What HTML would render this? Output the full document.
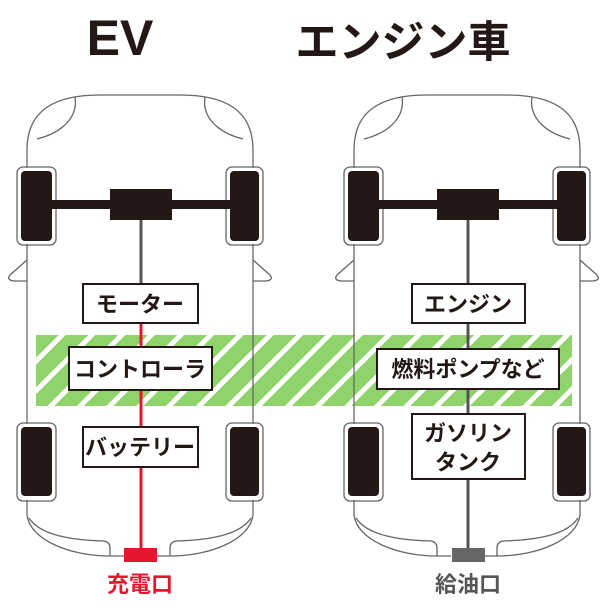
<!DOCTYPE html>
<html><head><meta charset="utf-8"><style>
html,body{margin:0;padding:0;background:#fff;}
body{width:607px;height:616px;position:relative;overflow:hidden;font-family:"Liberation Sans","Noto Sans CJK JP",sans-serif;}
.band{position:absolute;left:36px;top:335px;width:536px;height:71px;
background:repeating-linear-gradient(135deg,#8fd46a 0 16px,#fff 16px 21px);}
svg{position:absolute;left:0;top:0;}
</style></head><body>
<div class="band"></div>
<svg width="607" height="616" viewBox="0 0 607 616">
<defs>
<g id="car" fill="none" stroke="#666" stroke-width="1.3">
  <path d="M27,168 L27,150 C27,110 55,95 100,95 L180,95 C225,95 253,110 253,150 L253,168"/>
  <path d="M75,97 C78,115 65,132 37,139"/>
  <path d="M205,97 C202,115 215,132 243,139"/>
  <path d="M27,244 L27,424 M253,244 L253,424"/>
  <path d="M27,500 L27,515 C30,540 70,556 110,556 L124,556 M157,556 L170,556 C210,556 250,540 253,515 L253,500"/>
  <path d="M29,518 C40,535 70,540 104,541 Q110,542 110,548 L110,556"/>
  <path d="M251,518 C240,535 210,540 176,541 Q170,542 170,548 L170,556"/>
  <path d="M27,260 L10,275 Q6,280 14,281 L27,281"/>
  <path d="M253,260 L270,275 Q274,280 266,281 L253,281"/>
  <rect x="17" y="167" width="39" height="78" rx="6"/>
  <rect x="226" y="167" width="37" height="78" rx="6"/>
  <rect x="17" y="423" width="39" height="78" rx="6"/>
  <rect x="226" y="423" width="37" height="78" rx="6"/>
</g>
<g id="mech">
  <rect x="21" y="171" width="31" height="70" rx="4" fill="#231815"/>
  <rect x="230" y="171" width="29" height="70" rx="4" fill="#231815"/>
  <rect x="21" y="427" width="31" height="69" rx="4" fill="#231815"/>
  <rect x="230" y="427" width="29" height="69" rx="4" fill="#231815"/>
  <rect x="52" y="200" width="178" height="9" fill="#231815"/>
  <rect x="110" y="189" width="62" height="31" fill="#231815"/>
</g>
</defs>
<use href="#car"/>
<use href="#mech"/>
<use href="#car" transform="translate(327,0)"/>
<use href="#mech" transform="translate(327,0)"/>
<!-- EV lines -->
<line x1="141" y1="220" x2="141" y2="284" stroke="#555" stroke-width="3"/>
<line x1="141" y1="323" x2="141" y2="550" stroke="#e5172f" stroke-width="3"/>
<rect x="124" y="548" width="33" height="14" fill="#e5172f"/>
<!-- engine lines -->
<line x1="468" y1="220" x2="468" y2="550" stroke="#555" stroke-width="3"/>
<rect x="452" y="548" width="33" height="14" fill="#666"/>
<g fill="#fff" stroke="#231815" stroke-width="2">
  <rect x="83" y="284" width="115" height="39"/>
  <rect x="69" y="347" width="143" height="43"/>
  <rect x="83" y="427" width="115" height="40"/>
  <rect x="412" y="284" width="113" height="39"/>
  <rect x="377" y="349" width="182" height="40"/>
  <rect x="412" y="414" width="113" height="65"/>
</g>
<g font-family="Liberation Sans, Noto Sans CJK JP, sans-serif" font-weight="bold" fill="#231815" text-anchor="middle">
  <text x="120" y="55" font-size="50">EV</text>
  <text x="403" y="57" font-size="43">エンジン車</text>
  <g font-size="22">
  <text x="140" y="312">モーター</text>
  <text x="140" y="377">コントローラ</text>
  <text x="140" y="455">バッテリー</text>
  <text x="468" y="312">エンジン</text>
  <text x="468" y="377">燃料ポンプなど</text>
  <text x="468" y="441">ガソリン</text>
  <text x="468" y="470">タンク</text>
  </g>
  <text x="140" y="592" font-size="22" fill="#e5172f">充電口</text>
  <text x="468" y="592" font-size="22" fill="#555">給油口</text>
</g>
</svg>
</body></html>
